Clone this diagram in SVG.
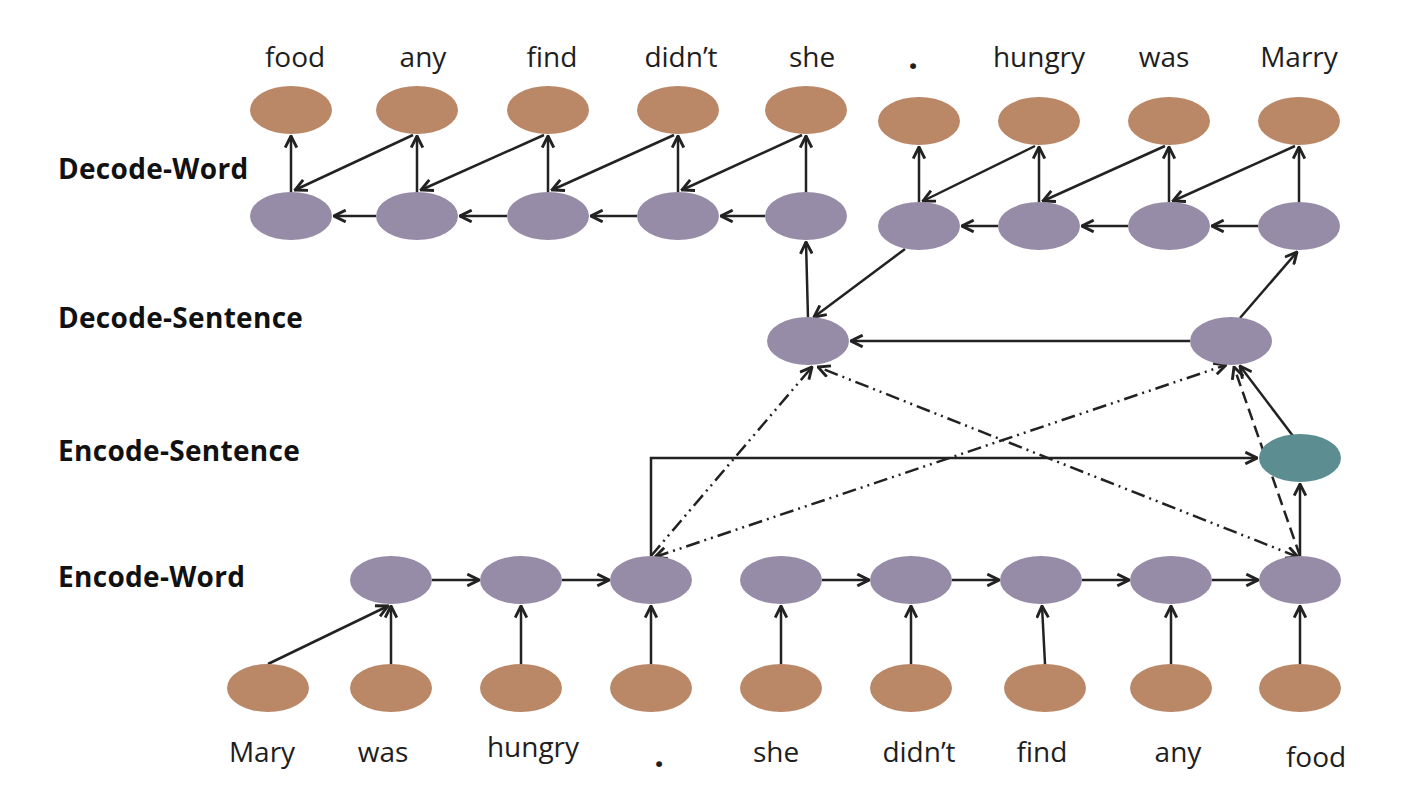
<svg xmlns="http://www.w3.org/2000/svg" width="1412" height="800" viewBox="0 0 1412 800">
<style>
.br{fill:#ba8767}
.pu{fill:#978ca7}
.te{fill:#5b8d91}
.w{font-family:"Open Sans","Liberation Sans",sans-serif;font-size:28px;fill:#1e1e1e;text-anchor:middle}
.p{font-family:"Open Sans","Liberation Sans",sans-serif;font-size:34px;font-weight:bold;fill:#1e1e1e;text-anchor:middle}
.lb{font-family:"Open Sans","Liberation Sans",sans-serif;font-size:28px;font-weight:bold;fill:#111;letter-spacing:0.3px}
.c{stroke:#222;stroke-width:2.5;fill:none}
.dd{stroke-dasharray:14 5 2 5 2 5}
.da{stroke-dasharray:12 6}
</style>
<defs>
<marker id="ar" viewBox="0 0 12 12" refX="11" refY="6" markerWidth="14" markerHeight="14" markerUnits="userSpaceOnUse" orient="auto-start-reverse">
<path d="M1,1 L11,6 L1,11" fill="none" stroke="#222" stroke-width="2.5"/>
</marker>
</defs>
<rect width="1412" height="800" fill="#fff"/>

<g id="labels">
<text class="lb" x="58" y="179">Decode-Word</text>
<text class="lb" x="58" y="328">Decode-Sentence</text>
<text class="lb" x="58" y="461">Encode-Sentence</text>
<text class="lb" x="58" y="587">Encode-Word</text>
</g>

<g id="connectors">
<g marker-end="url(#ar)" class="c">
<line x1="291" y1="193" x2="291" y2="136"/>
<line x1="417" y1="193" x2="417" y2="136"/>
<line x1="548" y1="193" x2="548" y2="136"/>
<line x1="678" y1="193" x2="678" y2="136"/>
<line x1="806" y1="193" x2="806" y2="136"/>
<line x1="413" y1="135" x2="295" y2="190"/>
<line x1="544" y1="135" x2="421" y2="190"/>
<line x1="674" y1="135" x2="552" y2="190"/>
<line x1="802" y1="135" x2="682" y2="190"/>
<line x1="376" y1="216" x2="334" y2="216"/>
<line x1="507" y1="216" x2="460" y2="216"/>
<line x1="637" y1="216" x2="591" y2="216"/>
<line x1="765" y1="216" x2="721" y2="216"/>
<line x1="919" y1="203" x2="919" y2="147"/>
<line x1="1039" y1="203" x2="1039" y2="147"/>
<line x1="1169" y1="203" x2="1169" y2="147"/>
<line x1="1299" y1="203" x2="1299" y2="147"/>
<line x1="1035" y1="146" x2="923" y2="201"/>
<line x1="1165" y1="146" x2="1043" y2="201"/>
<line x1="1295" y1="146" x2="1173" y2="201"/>
<line x1="1258" y1="226" x2="1212" y2="226"/>
<line x1="1128" y1="226" x2="1082" y2="226"/>
<line x1="998" y1="226" x2="962" y2="226"/>
<line x1="808" y1="318" x2="806" y2="242"/>
<line x1="905" y1="249" x2="814" y2="317"/>
<line x1="1240" y1="318" x2="1297" y2="252"/>
<line x1="1190" y1="341" x2="851" y2="341"/>
<line x1="1293" y1="436" x2="1240" y2="366"/>
<line x1="1300" y1="556" x2="1300" y2="484"/>
<path d="M651,556 V458 H1257"/>
<line x1="432" y1="580" x2="479" y2="580"/>
<line x1="562" y1="580" x2="609" y2="580"/>
<line x1="822" y1="580" x2="869" y2="580"/>
<line x1="952" y1="580" x2="999" y2="580"/>
<line x1="1082" y1="580" x2="1129" y2="580"/>
<line x1="1212" y1="580" x2="1258" y2="580"/>
<line x1="268" y1="664" x2="388" y2="606"/>
<line x1="391" y1="664" x2="391" y2="606"/>
<line x1="521" y1="664" x2="521" y2="606"/>
<line x1="651" y1="664" x2="651" y2="606"/>
<line x1="781" y1="664" x2="781" y2="606"/>
<line x1="911" y1="664" x2="911" y2="606"/>
<line x1="1045" y1="664" x2="1042" y2="606"/>
<line x1="1171" y1="664" x2="1171" y2="606"/>
<line x1="1300" y1="664" x2="1300" y2="606"/>
</g>
<line class="c dd" x1="651" y1="556" x2="812" y2="367" marker-end="url(#ar)"/>
<line class="c dd" x1="655" y1="557" x2="1226" y2="365" marker-start="url(#ar)" marker-end="url(#ar)"/>
<line class="c dd" x1="1298" y1="557" x2="818" y2="367" marker-start="url(#ar)" marker-end="url(#ar)"/>
<line class="c da" x1="1300" y1="556" x2="1234" y2="367" marker-end="url(#ar)"/>
</g>

<g id="dout-food"><ellipse class="br" cx="291" cy="110" rx="41" ry="24"/><text class="w" x="295" y="67">food</text></g>
<g id="dout-any"><ellipse class="br" cx="417" cy="110" rx="41" ry="24"/><text class="w" x="423" y="67">any</text></g>
<g id="dout-find"><ellipse class="br" cx="548" cy="110" rx="41" ry="24"/><text class="w" x="552" y="67">find</text></g>
<g id="dout-didnt"><ellipse class="br" cx="678" cy="110" rx="41" ry="24"/><text class="w" x="681" y="67">didn’t</text></g>
<g id="dout-she"><ellipse class="br" cx="806" cy="110" rx="41" ry="24"/><text class="w" x="812" y="67">she</text></g>
<g id="dout-dot"><ellipse class="br" cx="919" cy="121" rx="41" ry="24"/><text class="p" x="913" y="69">.</text></g>
<g id="dout-hungry"><ellipse class="br" cx="1039" cy="121" rx="41" ry="24"/><text class="w" x="1039" y="67">hungry</text></g>
<g id="dout-was"><ellipse class="br" cx="1169" cy="121" rx="41" ry="24"/><text class="w" x="1164" y="67">was</text></g>
<g id="dout-marry"><ellipse class="br" cx="1299" cy="121" rx="41" ry="24"/><text class="w" x="1299" y="67">Marry</text></g>

<g id="dw-1"><ellipse class="pu" cx="291" cy="216" rx="41" ry="24"/></g>
<g id="dw-2"><ellipse class="pu" cx="417" cy="216" rx="41" ry="24"/></g>
<g id="dw-3"><ellipse class="pu" cx="548" cy="216" rx="41" ry="24"/></g>
<g id="dw-4"><ellipse class="pu" cx="678" cy="216" rx="41" ry="24"/></g>
<g id="dw-5"><ellipse class="pu" cx="806" cy="216" rx="41" ry="24"/></g>
<g id="dw-6"><ellipse class="pu" cx="919" cy="226" rx="41" ry="24"/></g>
<g id="dw-7"><ellipse class="pu" cx="1039" cy="226" rx="41" ry="24"/></g>
<g id="dw-8"><ellipse class="pu" cx="1169" cy="226" rx="41" ry="24"/></g>
<g id="dw-9"><ellipse class="pu" cx="1299" cy="226" rx="41" ry="24"/></g>

<g id="ds-1"><ellipse class="pu" cx="808" cy="341" rx="41" ry="24"/></g>
<g id="ds-2"><ellipse class="pu" cx="1231" cy="341" rx="41" ry="24"/></g>

<g id="es"><ellipse class="te" cx="1300" cy="458" rx="41" ry="24"/></g>

<g id="ew-was"><ellipse class="pu" cx="391" cy="580" rx="41" ry="24"/></g>
<g id="ew-hungry"><ellipse class="pu" cx="521" cy="580" rx="41" ry="24"/></g>
<g id="ew-dot"><ellipse class="pu" cx="651" cy="580" rx="41" ry="24"/></g>
<g id="ew-she"><ellipse class="pu" cx="781" cy="580" rx="41" ry="24"/></g>
<g id="ew-didnt"><ellipse class="pu" cx="911" cy="580" rx="41" ry="24"/></g>
<g id="ew-find"><ellipse class="pu" cx="1041" cy="580" rx="41" ry="24"/></g>
<g id="ew-any"><ellipse class="pu" cx="1171" cy="580" rx="41" ry="24"/></g>
<g id="ew-food"><ellipse class="pu" cx="1300" cy="580" rx="41" ry="24"/></g>

<g id="in-mary"><ellipse class="br" cx="268" cy="688" rx="41" ry="24"/><text class="w" x="262" y="762">Mary</text></g>
<g id="in-was"><ellipse class="br" cx="391" cy="688" rx="41" ry="24"/><text class="w" x="383" y="762">was</text></g>
<g id="in-hungry"><ellipse class="br" cx="521" cy="688" rx="41" ry="24"/><text class="w" x="533" y="757">hungry</text></g>
<g id="in-dot"><ellipse class="br" cx="651" cy="688" rx="41" ry="24"/><text class="p" x="659" y="767">.</text></g>
<g id="in-she"><ellipse class="br" cx="781" cy="688" rx="41" ry="24"/><text class="w" x="776" y="762">she</text></g>
<g id="in-didnt"><ellipse class="br" cx="911" cy="688" rx="41" ry="24"/><text class="w" x="919" y="762">didn’t</text></g>
<g id="in-find"><ellipse class="br" cx="1045" cy="688" rx="41" ry="24"/><text class="w" x="1042" y="762">find</text></g>
<g id="in-any"><ellipse class="br" cx="1171" cy="688" rx="41" ry="24"/><text class="w" x="1178" y="762">any</text></g>
<g id="in-food"><ellipse class="br" cx="1300" cy="688" rx="41" ry="24"/><text class="w" x="1316" y="767">food</text></g>
</svg>
